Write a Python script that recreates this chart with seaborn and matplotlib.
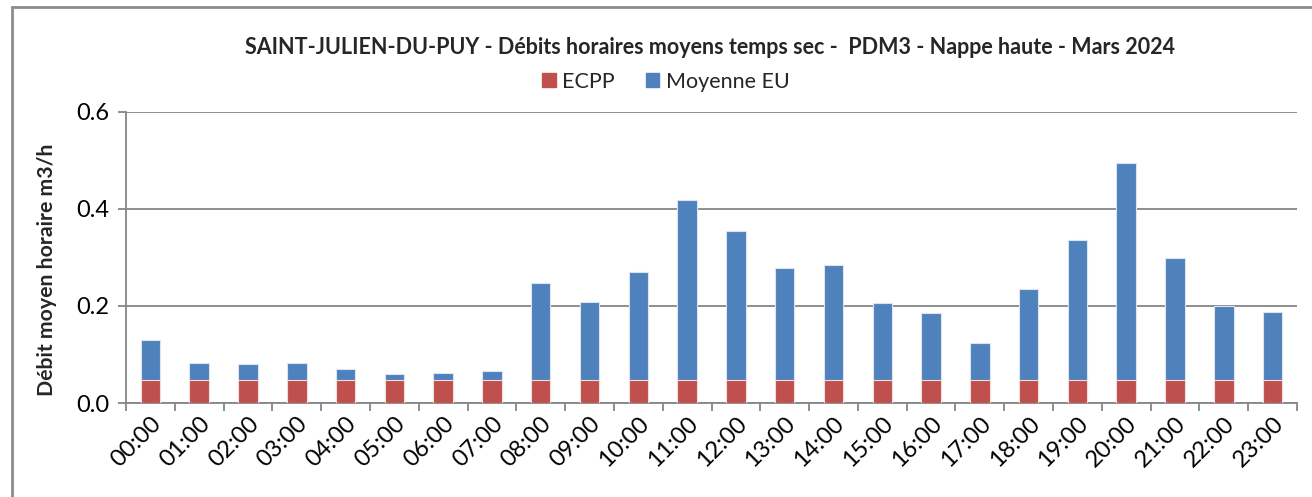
import matplotlib
matplotlib.use("Agg")
import matplotlib.pyplot as plt
import matplotlib.patches as mpatches
from matplotlib.ticker import MultipleLocator, FixedLocator, FormatStrFormatter
import seaborn as sns
import pandas as pd
import numpy as np

hours = ["00:00", "01:00", "02:00", "03:00", "04:00", "05:00", "06:00", "07:00",
         "08:00", "09:00", "10:00", "11:00", "12:00", "13:00", "14:00", "15:00",
         "16:00", "17:00", "18:00", "19:00", "20:00", "21:00", "22:00", "23:00"]
ecpp = [0.048] * 24
moyenne_eu = [0.082, 0.034, 0.032, 0.034, 0.022, 0.011, 0.014, 0.018,
              0.200, 0.160, 0.222, 0.371, 0.307, 0.231, 0.237, 0.158,
              0.137, 0.075, 0.187, 0.288, 0.447, 0.250, 0.152, 0.140]

title = "SAINT-JULIEN-DU-PUY - Débits horaires moyens temps sec -  PDM3 - Nappe haute - Mars 2024"
ylabel = "Débit moyen horaire m3/h"
red = "#C0504D"
blue = "#4F81BD"

sns.set_theme(style="white")
plt.rcParams["font.family"] = ["Lato", "DejaVu Sans"]

df = pd.DataFrame({"heure": hours, "ECPP": ecpp, "EU": moyenne_eu})
df["total"] = df["ECPP"] + df["EU"]

W, H = 1312, 497
fig = plt.figure(figsize=(W / 100, H / 100), dpi=100)
ax = fig.add_axes([126 / W, 1 - 403 / H, (1297 - 126) / W, (403 - 112) / H])

sns.barplot(data=df, x="heure", y="total", color=blue, width=0.4, saturation=1,
            edgecolor="#dbe5f1", linewidth=0.8, ax=ax, zorder=3)
sns.barplot(data=df, x="heure", y="ECPP", color=red, width=0.4, saturation=1,
            edgecolor="#f2dcdb", linewidth=0.8, ax=ax, zorder=4)

ax.set_ylim(0, 0.6)
ax.set_xlim(-0.5, len(hours) - 0.5)
ax.yaxis.set_major_locator(MultipleLocator(0.2))
ax.yaxis.set_major_formatter(FormatStrFormatter("%.1f"))
ax.grid(axis="y", color="#868686", linewidth=1.3, zorder=0)
ax.grid(axis="x", visible=False)
for s in ["top", "right"]:
    ax.spines[s].set_visible(False)
for s in ["left", "bottom"]:
    ax.spines[s].set_color("#868686")
    ax.spines[s].set_linewidth(1.3)

ax.tick_params(axis="y", which="major", direction="out", length=6, width=1.3,
               color="#868686", labelsize=17, labelcolor="black", left=True, pad=6)
ax.tick_params(axis="x", which="major", length=0, labelsize=17, labelcolor="black", pad=7)
ax.xaxis.set_minor_locator(FixedLocator(np.arange(-0.5, len(hours), 1.0)))
ax.tick_params(axis="x", which="minor", direction="out", length=6, width=1.3,
               color="#868686", bottom=True)
plt.setp(ax.get_xticklabels(), rotation=45, ha="right", rotation_mode="anchor")

ax.set_xlabel("")
ax.set_ylabel(ylabel, fontsize=15.3, fontweight="bold")
ax.yaxis.set_label_coords((57 - 126) / (1297 - 126), (403 - 270) / (403 - 112))

fig.text(710 / W, 1 - 48 / H, title, ha="center", va="center",
         fontsize=15.5, fontweight="bold")

handles = [mpatches.Patch(color=red, label="ECPP"),
           mpatches.Patch(color=blue, label="Moyenne EU")]
fig.legend(handles=handles, loc="center", bbox_to_anchor=(666 / W, 1 - 82 / H),
           ncol=2, frameon=False, fontsize=15.5, handlelength=0.62, handleheight=0.62,
           handletextpad=0.3, columnspacing=1.45)

border = mpatches.Rectangle((11.5 / W, -0.1), 1.2, 1 - 6.5 / H + 0.1,
                            transform=fig.transFigure, fill=False,
                            edgecolor="#8c8c8c", linewidth=2, clip_on=False)
fig.patches.append(border)

fig.savefig("out.png", dpi=100)
